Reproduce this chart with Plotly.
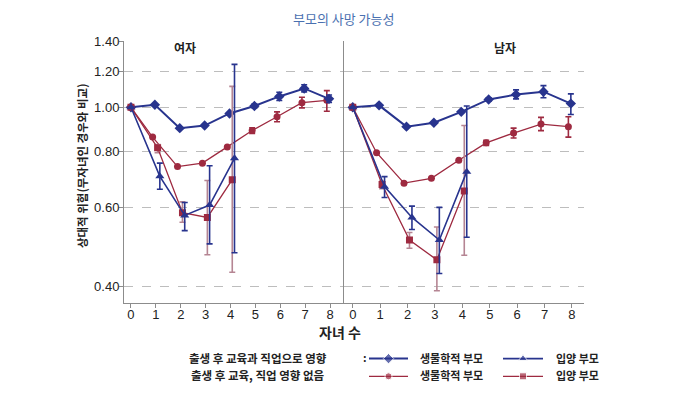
import plotly.graph_objects as go

W, H = 699, 393

# ---------------- data ----------------
children = [0, 1, 2, 3, 4, 5, 6, 7, 8]
children_adopt = [0, 1, 2, 3, 4]
x_ticks = [0, 1, 2, 3, 4, 5, 6, 7, 8]
y_ticks = [0.40, 0.60, 0.80, 1.00, 1.20, 1.40]
y_tick_text = ["0.40", "0.60", "0.80", "1.00", "1.20", "1.40"]

# 여자 (women)
w_bio_eff = [1.00, 1.013, 0.899, 0.911, 0.969, 1.007, 1.057, 1.101, 1.044]
w_bio_eff_hi = [None, None, None, None, None, 1.017, 1.080, 1.122, 1.065]
w_bio_eff_lo = [None, None, None, None, None, 0.997, 1.035, 1.082, 1.025]
w_bio_no = [1.00, 0.859, 0.739, 0.752, 0.817, 0.888, 0.953, 1.024, 1.036]
w_bio_no_hi = [None, None, None, None, None, 0.901, 0.977, 1.053, 1.089]
w_bio_no_lo = [None, None, None, None, None, 0.875, 0.929, 0.997, 0.980]
w_ado_eff = [1.00, 0.703, 0.576, 0.607, 0.771]
w_ado_eff_hi = [None, 0.752, 0.615, 0.742, 1.245]
w_ado_eff_lo = [None, 0.658, 0.533, 0.498, 0.476]
w_ado_no = [1.00, 0.813, 0.584, 0.570, 0.691]
w_ado_no_hi = [None, 0.827, 0.617, 0.688, 1.113]
w_ado_no_lo = [None, 0.793, 0.556, 0.471, 0.431]

# 남자 (men)
m_bio_eff = [1.00, 1.010, 0.906, 0.924, 0.977, 1.041, 1.067, 1.083, 1.019]
m_bio_eff_hi = [None, None, None, None, None, 1.050, 1.093, 1.117, 1.071]
m_bio_eff_lo = [None, None, None, None, None, 1.032, 1.044, 1.050, 0.964]
m_bio_no = [1.00, 0.793, 0.679, 0.696, 0.763, 0.834, 0.877, 0.918, 0.906]
m_bio_no_hi = [None, None, None, None, None, 0.845, 0.899, 0.950, 0.953]
m_bio_no_lo = [None, None, None, None, None, 0.823, 0.855, 0.888, 0.859]
m_ado_eff = [1.00, 0.667, 0.570, 0.508, 0.720]
m_ado_eff_hi = [None, 0.702, 0.604, 0.600, 1.007]
m_ado_eff_lo = [None, 0.631, 0.536, 0.428, 0.515]
m_ado_no = [1.00, 0.674, 0.508, 0.459, 0.652]
m_ado_no_hi = [None, 0.686, 0.528, 0.543, 0.911]
m_ado_no_lo = [None, 0.660, 0.487, 0.392, 0.470]

title_text = "부모의 사망 가능성"
panel_titles = ["여자", "남자"]
x_title = "자녀 수"
y_title = "상대적 위험(무자녀인 경우와 비교)"
row_labels = ["출생 후 교육과 직업으로 영향", "출생 후 교육, 직업 영향 없음"]
bio_label = "생물학적 부모"
ado_label = "입양 부모"

# ---------------- style ----------------
BLUE = "#28348e"
RED = "#9e2a40"
RED_ERR = "#b58593"
GRID = "#bdbdbd"
AXIS = "#8c8c8c"
FONT = "Liberation Sans, Noto Sans CJK KR, sans-serif"
KFONT = "Noto Sans CJK KR, sans-serif"

def px(x):
    return x / W

def py(y):
    return 1 - y / H

def dodge(xs, off):
    return [x + off if x > 0 else x for x in xs]

def errs(vals, hi, lo):
    up = [(h - v) if h is not None else 0 for v, h in zip(vals, hi)]
    dn = [(v - l) if l is not None else 0 for v, l in zip(vals, lo)]
    return up, dn

fig = go.Figure()

series = [
    ("bio_no", -0.13, RED, 1.3, "circle", 7, RED),
    ("bio_eff", -0.04, BLUE, 2.0, "diamond", 8, BLUE),
    ("ado_no", 0.07, RED, 1.3, "square", 7, RED_ERR),
    ("ado_eff", 0.16, BLUE, 1.6, "triangle-up", 8, BLUE),
]
data = {
    ("w", "bio_eff"): (w_bio_eff, w_bio_eff_hi, w_bio_eff_lo, children),
    ("w", "bio_no"): (w_bio_no, w_bio_no_hi, w_bio_no_lo, children),
    ("w", "ado_eff"): (w_ado_eff, w_ado_eff_hi, w_ado_eff_lo, children_adopt),
    ("w", "ado_no"): (w_ado_no, w_ado_no_hi, w_ado_no_lo, children_adopt),
    ("m", "bio_eff"): (m_bio_eff, m_bio_eff_hi, m_bio_eff_lo, children),
    ("m", "bio_no"): (m_bio_no, m_bio_no_hi, m_bio_no_lo, children),
    ("m", "ado_eff"): (m_ado_eff, m_ado_eff_hi, m_ado_eff_lo, children_adopt),
    ("m", "ado_no"): (m_ado_no, m_ado_no_hi, m_ado_no_lo, children_adopt),
}

for panel, (xa, ya) in [("w", ("x", "y")), ("m", ("x2", "y2"))]:
    for key, off, col, lw, sym, size, ecol in series:
        vals, hi, lo, xs = data[(panel, key)]
        up, dn = errs(vals, hi, lo)
        fig.add_trace(go.Scatter(
            x=dodge(xs, off), y=vals, xaxis=xa, yaxis=ya,
            mode="lines+markers",
            line=dict(color=col, width=lw),
            marker=dict(symbol=sym, size=size, color=col),
            error_y=dict(type="data", symmetric=False, array=up, arrayminus=dn,
                         color=ecol, thickness=1.6, width=3),
            showlegend=False, hoverinfo="skip",
        ))

# legend symbols on a hidden pixel-space axis
leg = [
    (369, 408, 358, BLUE, 2.0, "diamond", 8),
    (503, 543, 358, BLUE, 1.6, "triangle-up", 8),
    (369, 408, 376, RED, 1.3, "circle", 7),
    (503, 543, 376, RED, 1.3, "square", 7),
]
for x0, x1, yy, col, lw, sym, size in leg:
    fig.add_trace(go.Scatter(
        x=[x0, (x0 + x1) / 2, x1], y=[yy, yy, yy], xaxis="x3", yaxis="y3",
        mode="lines+markers", line=dict(color=col, width=lw),
        marker=dict(symbol=sym, size=[0, size, 0], color=col),
        showlegend=False, hoverinfo="skip"))

yaxis_common = dict(
    type="log", range=[-0.4330, 0.14613],
    tickvals=y_ticks, ticktext=y_tick_text,
    showgrid=True, gridcolor=GRID, griddash="dash", gridwidth=1,
    showline=True, linecolor=AXIS, linewidth=1,
    zeroline=False, domain=[py(301), py(35)],
)
xaxis_common = dict(
    tickvals=x_ticks, showgrid=False, zeroline=False,
    showline=True, linecolor=AXIS, linewidth=1,
    ticks="outside", ticklen=4, tickcolor=AXIS, ticklabelstandoff=-4,
    tickfont=dict(family=FONT, size=13, color="#222"),
)

fig.update_layout(
    width=W, height=H,
    margin=dict(l=0, r=0, t=0, b=0, pad=0),
    paper_bgcolor="white", plot_bgcolor="rgba(0,0,0,0)",
    font=dict(family=FONT, color="#222"),
    xaxis=dict(xaxis_common, domain=[px(124), px(344)], range=[-0.28, 8.56], anchor="y"),
    xaxis2=dict(xaxis_common, domain=[px(344), px(584)], range=[-0.32, 8.44], anchor="y2"),
    yaxis=dict(yaxis_common, anchor="x", ticks="outside", ticklen=4, tickcolor=AXIS,
               ticklabelstandoff=-3,
               tickfont=dict(family=FONT, size=13, color="#222")),
    yaxis2=dict(yaxis_common, anchor="x2", showticklabels=False, ticks=""),
    xaxis3=dict(domain=[0, 1], range=[0, W], visible=False, anchor="y3"),
    yaxis3=dict(domain=[0, 1], range=[H, 0], visible=False, anchor="x3"),
)

ann = [
    dict(x=px(344), y=py(12), text=title_text, font=dict(family=KFONT, size=13, color="#4a70b0")),
    dict(x=px(185), y=py(41), text="<b>" + panel_titles[0] + "</b>", font=dict(family=KFONT, size=12)),
    dict(x=px(505), y=py(41), text="<b>" + panel_titles[1] + "</b>", font=dict(family=KFONT, size=12)),
    dict(x=px(340), y=py(331), text="<b>" + x_title + "</b>", font=dict(family=KFONT, size=14)),
    dict(x=px(82), y=py(162), text="<b>" + y_title + "</b>", textangle=-90, font=dict(family=KFONT, size=11.5)),
    dict(x=px(258), y=py(357), text="<b>" + row_labels[0] + "</b>", font=dict(family=KFONT, size=11.5)),
    dict(x=px(258), y=py(375), text="<b>" + row_labels[1] + "</b>", font=dict(family=KFONT, size=11.5)),
    dict(x=px(365), y=py(356), text="<b>:</b>", font=dict(family=KFONT, size=11)),
    dict(x=px(451), y=py(357), text="<b>" + bio_label + "</b>", font=dict(family=KFONT, size=11)),
    dict(x=px(451), y=py(375), text="<b>" + bio_label + "</b>", font=dict(family=KFONT, size=11)),
    dict(x=px(577), y=py(357), text="<b>" + ado_label + "</b>", font=dict(family=KFONT, size=11)),
    dict(x=px(577), y=py(375), text="<b>" + ado_label + "</b>", font=dict(family=KFONT, size=11)),
]
for a in ann:
    a.update(xref="paper", yref="paper", showarrow=False, xanchor="center", yanchor="middle")
fig.update_layout(annotations=ann)

fig.write_html("out.html", config={"displayModeBar": False},
               post_script="document.body.style.margin='0px';")
